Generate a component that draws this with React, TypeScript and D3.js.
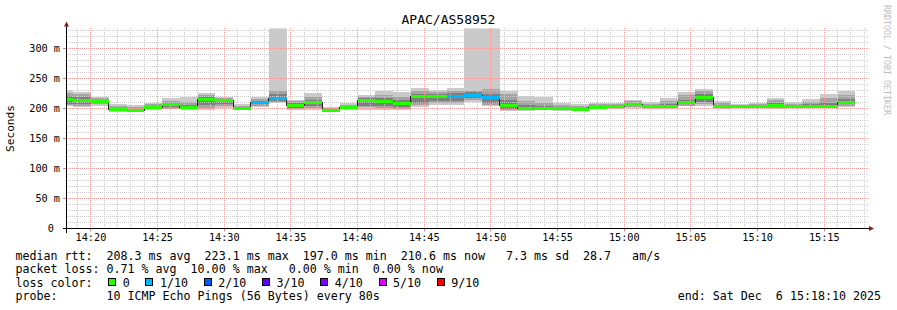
import React from 'react';
import * as d3 from 'd3';

// ---------- data ----------
const title = 'APAC/AS58952';
const startTime = new Date(2025, 11, 6, 14, 18, 10);
const endTime = new Date(2025, 11, 6, 15, 18, 10);
const firstStepEnd = new Date(2025, 11, 6, 14, 18, 40);
const stepSeconds = 80;

// median rtt (ms) per 80 s step
const median = [
  215, 214, 211.5, 198, 196.5, 202, 206, 202.5, 215.5, 213.5,
  200, 210, 216.5, 205, 210.5, 197, 202, 213.5, 212.5, 209,
  219.5, 219.5, 220.5, 222, 219, 205.5, 200, 200.5, 200.5, 198.5,
  202.5, 204, 206, 204, 203.5, 210.5, 218.5, 203, 203, 203,
  205, 203, 203, 203.5, 210,
];
// lost pings out of 10
const lossCount = [
  0, 0, 0, 0, 0, 0, 0, 0, 0, 0,
  0, 1, 1, 0, 0, 0, 0, 0, 0, 0,
  0, 0, 1, 1, 1, 0, 0, 0, 0, 0,
  0, 0, 0, 0, 0, 0, 0, 0, 0, 0,
  0, 0, 0, 0, 0,
];
// sorted ping rtts (ms): 1st, 2nd, 3rd, 8th, 9th, 10th
const ping1 = [
  204, 203, 205, 195, 194.5, 197, 198.5, 197, 197, 201,
  197, 203, 209, 197, 197, 195, 197, 198, 198, 197,
  202, 206, 206, 211, 204, 195.5, 196, 197, 196.5, 195.5,
  198.5, 200, 200.5, 200, 199.5, 203.5, 203.5, 200, 200.5, 200.5,
  200, 200.5, 200.5, 200.5, 203,
];
const ping2 = [
  206, 205, 207, 196, 195, 199, 200, 198.5, 201, 204,
  198, 205, 211, 199, 201, 195.5, 199, 202, 201, 200,
  206, 209, 209, 214, 206, 197, 197, 198, 197, 196.5,
  199.5, 201, 202, 201, 200.5, 205, 207, 201, 201.5, 201,
  201, 201.5, 201, 201, 205,
];
const ping3 = [
  208, 208, 209, 197, 196, 200, 202, 200, 206, 207,
  199, 207, 213, 201, 204, 196, 200, 205, 204, 203,
  210, 212, 213, 217, 209, 199, 198, 199, 198, 197,
  200.5, 202, 203.5, 202, 201.5, 207, 211, 202, 202, 202,
  202.5, 202, 202, 202, 207,
];
const ping8 = [
  221, 219, 214, 201, 199, 204, 208, 206, 220, 215,
  202, 213, 225, 209, 214, 199, 204, 217, 217, 214,
  225, 224, 226, 227, 225, 215, 206, 204, 203, 201,
  205, 205.5, 209, 206, 208, 214, 225, 206, 204.5, 205,
  209, 205, 207, 210, 216,
];
const ping9 = [
  226, 224, 217, 204, 202, 207, 213, 211, 222, 217,
  205, 216, 230, 212, 219, 201, 206, 220, 223, 220,
  230, 228, 230, 230, 233, 225, 212, 210, 206, 204,
  207, 207, 212, 208, 213, 222, 229, 209, 206, 207,
  214, 208, 211, 217, 223,
];
const ping10 = [
  231, 228, 220, 208, 205.5, 210, 218, 220, 226, 218.5,
  208, 219, 340, 215, 226, 203, 209.5, 223, 229, 228,
  234, 231, 234, 340, 340, 230, 220.5, 218.5, 209, 207,
  209.5, 208.5, 215, 211, 218, 227.5, 232.5, 212.5, 207.5, 209.5,
  218, 211, 216, 223.5, 229,
];

const yTickValues = [0, 50, 100, 150, 200, 250, 300];
const lossLabels = ['0', '1/10', '2/10', '3/10', '4/10', '5/10', '9/10'];
const lossColors = ['#26ff00', '#00b8ff', '#0059ff', '#5e00ff', '#7e00ff', '#dd00ff', '#ff0000'];
const lossIndexOfCount = (c: number) => (c === 0 ? 0 : c <= 5 ? c : 6);

const legendLine1 = 'median rtt:  208.3 ms avg  223.1 ms max  197.0 ms min  210.6 ms now   7.3 ms sd  28.7   am/s';
const legendLine2 = 'packet loss: 0.71 % avg  10.00 % max   0.00 % min  0.00 % now';
const legendLine3 = 'loss color:';
const legendLine4 = 'probe:       10 ICMP Echo Pings (56 Bytes) every 80s';
const endLabel = 'end: Sat Dec  6 15:18:10 2025';
const yAxisTitle = 'Seconds';
const watermark = 'RRDTOOL / TOBI OETIKER';

// ---------- layout ----------
const W = 897;
const H = 310;
const plotLeft = 66.5;
const plotRight = 866.5;
const plotTop = 28.5;
const plotBottom = 228.5;
const mono = '"DejaVu Sans Mono", monospace';
const charW = 7.02;
const legendFont = charW / 0.6021;
const textX = 15.4;

const smokeColors = ['#cacaca', '#a4a4a4', '#7e7e7e'];
const nb = (s: string) => s.replace(/ /g, '\u00a0');

export default function App() {
  const x = d3.scaleTime().domain([startTime, endTime]).range([plotLeft, plotRight]);
  const y = d3.scaleLinear().domain([0, 1000 / 3]).range([plotBottom, plotTop]);

  const segStart = (i: number) => d3.timeSecond.offset(firstStepEnd, (i - 1) * stepSeconds);
  const segEnd = (i: number) => d3.timeSecond.offset(firstStepEnd, i * stepSeconds);

  const segs = median.map((m, i) => ({
    i,
    x0: Math.max(x(segStart(i)), plotLeft),
    x1: Math.min(x(segEnd(i)), plotRight),
    m,
    loss: lossCount[i],
    bands: [
      [ping1[i], ping10[i]],
      [ping2[i], ping9[i]],
      [ping3[i], ping8[i]],
    ],
  }));

  const medPts: [number, number][] = segs.map((s) => [s.x0, y(s.m)]);
  const last = segs[segs.length - 1];
  medPts.push([last.x1, y(last.m)]);
  const medLine = d3.line().curve(d3.curveStepAfter)(medPts) || '';

  const snap = (v: number) => Math.round(v - 0.5) + 0.5;

  const minorX = d3.timeMinute.every(1)!.range(startTime, endTime);
  const majorX = d3.timeMinute.every(5)!.range(startTime, endTime);
  const minorY = d3.range(0, 335, 10);
  const fmt = d3.timeFormat('%H:%M');

  const yLabel = (v: number) => (v === 0 ? nb('0 ') : nb(`${v} m`));

  // legend squares
  const sqStart = textX + 13 * charW + 1.5;
  const legendPos: { sx: number; lx: number }[] = [];
  let cur = sqStart;
  lossLabels.forEach((lab) => {
    const lx = cur + 14.5;
    legendPos.push({ sx: cur, lx });
    cur = lx + lab.length * charW + 15.7;
  });

  const base1 = 259.5;
  const lh = 13.5;
  const minorCol = '#cacaca';
  const majorCol = '#f09c9c';
  const gx0 = plotLeft - 0.5; // dashes start on a whole pixel
  const gy0 = plotTop - 0.5;

  return (
    <div style={{ position: 'absolute', left: 0, top: 0 }}>
      <svg width={W} height={H} viewBox={`0 0 ${W} ${H}`} style={{ display: 'block', background: '#ffffff' }}>
        <defs>
          <clipPath id="plotClip">
            <rect x={plotLeft} y={plotTop} width={plotRight - plotLeft} height={plotBottom - plotTop} />
          </clipPath>
        </defs>
        <rect x={0} y={0} width={W} height={H} fill="#ffffff" />

        {/* data */}
        <g clipPath="url(#plotClip)" shapeRendering="crispEdges">
          {segs.map((s) =>
            s.bands.map((b, k) => (
              <rect
                key={`b${s.i}-${k}`}
                x={s.x0}
                width={s.x1 - s.x0}
                y={y(b[1])}
                height={y(b[0]) - y(b[1])}
                fill={smokeColors[k]}
              />
            ))
          )}
        </g>

        {/* grid */}
        <g fill="none">
          {minorY.filter((v) => v % 50 !== 0 && y(v) >= plotTop).map((v) => (
            <line key={`hy${v}`} x1={gx0} x2={plotRight + 2} y1={snap(y(v))} y2={snap(y(v))} stroke={minorCol} strokeDasharray="1 1" />
          ))}
          {minorX.filter((t) => t.getMinutes() % 5 !== 0).map((t) => (
            <line key={`vx${+t}`} x1={snap(x(t))} x2={snap(x(t))} y1={gy0} y2={plotBottom} stroke={minorCol} strokeDasharray="1 1" />
          ))}
          {yTickValues.filter((v) => v > 0).map((v) => (
            <g key={`my${v}`}>
              <line x1={plotLeft - 3.5} x2={plotLeft} y1={snap(y(v))} y2={snap(y(v))} stroke="#c08f8f" />
              <line x1={gx0} x2={plotRight + 2} y1={snap(y(v))} y2={snap(y(v))} stroke={majorCol} strokeDasharray="1 1" />
            </g>
          ))}
          {majorX.map((t) => (
            <g key={`mx${+t}`}>
              <line x1={snap(x(t))} x2={snap(x(t))} y1={gy0} y2={plotBottom} stroke={majorCol} strokeDasharray="1 1" />
              <line x1={snap(x(t))} x2={snap(x(t))} y1={plotBottom} y2={plotBottom + 3} stroke="#c08f8f" />
            </g>
          ))}
        </g>

        {/* median */}
        <g clipPath="url(#plotClip)">
          <path d={medLine} fill="none" stroke="#202020" strokeWidth={1} shapeRendering="crispEdges" />
          {segs.map((s) => (
            <rect
              key={`m${s.i}`}
              x={s.x0}
              width={s.x1 - s.x0}
              y={y(s.m) - 1.5}
              height={3}
              fill={lossColors[lossIndexOfCount(s.loss)]}
              shapeRendering="crispEdges"
            />
          ))}
        </g>

        {/* axes */}
        <g shapeRendering="crispEdges">
          <line x1={plotLeft - 4} x2={plotRight + 3} y1={plotBottom} y2={plotBottom} stroke="#000" />
          <line x1={plotLeft} x2={plotLeft} y1={plotBottom + 4} y2={plotTop - 3} stroke="#000" />
        </g>
        <path d={`M${plotLeft - 2.5},${plotTop - 2} L${plotLeft + 2.5},${plotTop - 2} L${plotLeft},${plotTop - 7} Z`} fill="#8b1a1a" />
        <path d={`M${plotRight + 2.5},${plotBottom - 2.5} L${plotRight + 2.5},${plotBottom + 2.5} L${plotRight + 7.5},${plotBottom} Z`} fill="#8b1a1a" />

        {/* tick labels */}
        <g fontFamily={mono} fontSize={10.2} fill="#000">
          {yTickValues.map((v) => (
            <text key={`yl${v}`} x={60} y={y(v) + 3.6} textAnchor="end">
              {yLabel(v)}
            </text>
          ))}
          {majorX.map((t) => (
            <text key={`xl${+t}`} x={x(t)} y={240.6} textAnchor="middle">
              {fmt(t)}
            </text>
          ))}
        </g>

        {/* titles */}
        <text x={W / 2} y={24} textAnchor="middle" fontFamily={mono} fontSize={13} fill="#000">
          {title}
        </text>
        <text
          transform={`translate(14,${(plotTop + plotBottom) / 2}) rotate(-90)`}
          textAnchor="middle"
          fontFamily={mono}
          fontSize={11.2}
          fill="#000"
        >
          {yAxisTitle}
        </text>
        <text transform="translate(884,5) rotate(90)" fontFamily={mono} fontSize={8.3} fill="#bdbdbd">
          {watermark}
        </text>

        {/* legend */}
        <g fontFamily={mono} fontSize={legendFont} fill="#000">
          <text x={textX} y={base1}>{nb(legendLine1)}</text>
          <text x={textX} y={base1 + lh}>{nb(legendLine2)}</text>
          <text x={textX} y={base1 + 2 * lh}>{nb(legendLine3)}</text>
          {lossLabels.map((lab, k) => (
            <g key={`lg${k}`}>
              <rect
                x={legendPos[k].sx + 0.5}
                y={base1 + 2 * lh - 8}
                width={7}
                height={7}
                fill={lossColors[k]}
                stroke="#000"
                strokeWidth={1}
                shapeRendering="crispEdges"
              />
              <text x={legendPos[k].lx} y={base1 + 2 * lh}>{lab}</text>
            </g>
          ))}
          <text x={textX} y={base1 + 3 * lh}>{nb(legendLine4)}</text>
          <text x={881} y={base1 + 3 * lh} textAnchor="end">{nb(endLabel)}</text>
        </g>
      </svg>
    </div>
  );
}
